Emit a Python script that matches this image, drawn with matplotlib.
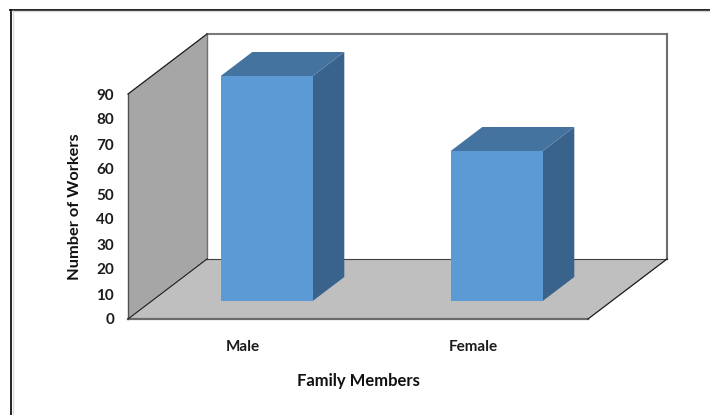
import matplotlib
matplotlib.use("Agg")
import matplotlib.pyplot as plt
from matplotlib.lines import Line2D
from matplotlib.patches import Polygon

categories = ["Male", "Female"]
workers = [90, 60]
yticks = [0, 10, 20, 30, 40, 50, 60, 70, 80, 90]

W, H = 710, 415
# oblique depth of the box, in data units
DEPTH_X = 79 / 230
DEPTH_Y = 24
BAR_W = 92 / 230
BAR_D0, BAR_D1 = 0.30, 0.70

plt.rcParams['font.family'] = ['Lato', 'DejaVu Sans']

fig = plt.figure(figsize=(W / 100, H / 100), dpi=100, facecolor="white")
ax = fig.add_axes([128 / W, 1 - 319 / H, 460 / W, 225 / H])
ax.set_xlim(-0.5, 1.5)
ax.set_ylim(0, 90)
ax.patch.set_visible(False)
for s in ax.spines.values():
    s.set_visible(False)


def pt(x, y, d):
    return (x + d * DEPTH_X, y + d * DEPTH_Y)


def poly(pts, color, z, ec="none", lw=0):
    ax.add_patch(Polygon(pts, closed=True, fc=color, ec=ec, lw=lw, zorder=z, clip_on=False))


x0, x1 = ax.get_xlim()
y0, y1 = ax.get_ylim()

# back wall, side wall, floor
poly([pt(x0, y0, 1), pt(x1, y0, 1), pt(x1, y1, 1), pt(x0, y1, 1)], "white", 1)
poly([pt(x0, y0, 0), pt(x0, y0, 1), pt(x0, y1, 1), pt(x0, y1, 0)], "#a6a6a6", 1)
poly([pt(x0, y0, 0), pt(x1, y0, 0), pt(x1, y0, 1), pt(x0, y0, 1)], "#bfbfbf", 1)


def edge(a, b, color, lw):
    ax.plot([a[0], b[0]], [a[1], b[1]], color=color, lw=lw, zorder=2, clip_on=False,
            solid_capstyle="projecting")


edge(pt(x0, y1, 1), pt(x1, y1, 1), "#7a7a7a", 1.5)
edge(pt(x1, y1, 1), pt(x1, y0, 1), "#6e6e6e", 1.5)
edge(pt(x0, y1, 1), pt(x0, y0, 1), "#707070", 1.0)
edge(pt(x0, y0, 1), pt(x1, y0, 1), "#404040", 0.8)
edge(pt(x0, y0, 0), pt(x0, y1, 0), "#505050", 1.0)
edge(pt(x0, y0, 0), pt(x1, y0, 0), "#6a6a6a", 1.6)
edge(pt(x0, y1, 0), pt(x0, y1, 1), "#1a1a1a", 0.9)
edge(pt(x0, y0, 0), pt(x0, y0, 1), "#1a1a1a", 0.8)
edge(pt(x1, y0, 0), pt(x1, y0, 1), "#1a1a1a", 0.9)

# bars
for i, v in enumerate(workers):
    l, r = i - BAR_W / 2, i + BAR_W / 2
    poly([pt(r, 0, BAR_D0), pt(r, 0, BAR_D1), pt(r, v, BAR_D1), pt(r, v, BAR_D0)], "#3a638c", 3)
    poly([pt(l, v, BAR_D0), pt(r, v, BAR_D0), pt(r, v, BAR_D1), pt(l, v, BAR_D1)], "#44739f", 3)
    poly([pt(l, 0, BAR_D0), pt(r, 0, BAR_D0), pt(r, v, BAR_D0), pt(l, v, BAR_D0)], "#5b9ad5", 4)

ax.set_yticks(yticks)
ax.set_xticks(range(len(categories)))
ax.set_xticklabels(categories)
ax.tick_params(axis="both", length=0, labelcolor="#1c1c1c")
ax.tick_params(axis="y", pad=10)
ax.tick_params(axis="x", pad=15)
for t in ax.get_xticklabels() + ax.get_yticklabels():
    t.set_fontsize(11)
    t.set_fontweight("bold")

ax.set_ylabel("Number of Workers", fontsize=11.8, fontweight="bold", color="#111111")
ax.yaxis.set_label_coords((82 - 128) / 460, (319 - 207) / 225)
ax.set_xlabel("Family Members", fontsize=12, fontweight="bold", color="#111111")
ax.xaxis.set_label_coords((358 - 128) / 460, (319 - 373) / 225)

# outer chart frame
fig.add_artist(Line2D([10.5 / W, 10.5 / W], [0, 1 - 10 / H], color="#111111", lw=1.3))
fig.add_artist(Line2D([10 / W, 1], [1 - 10 / H, 1 - 10 / H], color="#111111", lw=1.3))
fig.add_artist(Line2D([12 / W, 1], [1 - 11.5 / H, 1 - 11.5 / H], color="#d8d8d8", lw=1))
fig.add_artist(Line2D([12.5 / W, 12.5 / W], [0, 1 - 11 / H], color="#dcdcdc", lw=1))

fig.savefig("out.png", dpi=100)
